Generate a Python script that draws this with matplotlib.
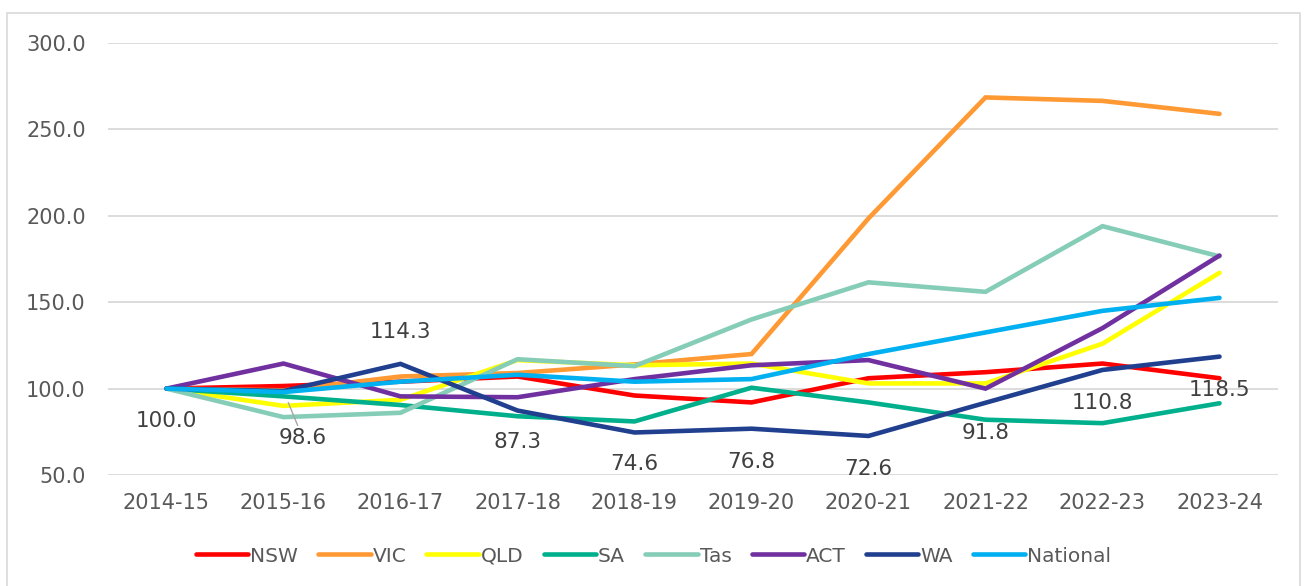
import numpy as np
import matplotlib
matplotlib.use('Agg')
import matplotlib.pyplot as plt
from matplotlib.patches import Rectangle

plt.rcParams['font.family'] = ['DejaVu Sans']

##############################################################################
years = ['2014-15', '2015-16', '2016-17', '2017-18', '2018-19',
         '2019-20', '2020-21', '2021-22', '2022-23', '2023-24']

nsw      = [100.0, 101.5, 104.0, 107.0,  96.0,  92.0, 106.0, 109.5, 114.5, 106.0]
vic      = [100.0,  99.0, 107.0, 109.0, 114.0, 120.0, 198.5, 268.5, 266.5, 259.0]
qld      = [100.0,  90.0,  93.5, 116.5, 113.5, 114.5, 103.0, 103.0, 126.0, 167.0]
sa       = [100.0,  95.5,  90.5,  84.0,  81.0, 100.5,  92.0,  82.0,  80.0,  91.5]
tas      = [100.0,  83.5,  86.0, 117.0, 113.0, 140.0, 161.5, 156.0, 194.0, 176.5]
act      = [100.0, 114.5,  95.5,  95.0, 105.5, 113.5, 116.5, 100.0, 135.0, 177.0]
wa       = [100.0,  98.6, 114.3,  87.3,  74.6,  76.8,  72.6,  91.8, 110.8, 118.5]
national = [100.0,  98.0, 104.0, 108.0, 104.0, 105.5, 120.0, 132.5, 145.0, 152.5]

series = [
    ('NSW', nsw, '#FF0000'),
    ('VIC', vic, '#FF9933'),
    ('QLD', qld, '#FFFF00'),
    ('SA', sa, '#00B08C'),
    ('Tas', tas, '#86CDB8'),
    ('ACT', act, '#7030A0'),
    ('WA', wa, '#203F8F'),
    ('National', national, '#00B0F0'),
]

# offsets (points) of the WA data labels
label_offsets = [(0, -23), (14, -34), (0, 23), (0, -23), (0, -23),
                 (0, -24), (0, -24), (0, -22), (0, -24), (0, -24)]

##############################################################################
txtColor = '#595959'
gridColor = '#D9D9D9'

fig = plt.figure(figsize=(13.07, 5.86), dpi=100)
fig.patches.append(Rectangle((7/1307., -0.01), 1293/1307., 1 - 13/586. + 0.01,
                             transform=fig.transFigure, fill=False,
                             edgecolor=gridColor, linewidth=1.2))
ax = fig.add_axes([108/1307., 1 - 475/586., 1170/1307., 432/586.])

x = np.arange(len(years))
for name, vals, col in series:
    ax.plot(x, vals, color=col, linewidth=3.3, label=name,
            solid_capstyle='round', solid_joinstyle='miter')

for i, (v, off) in enumerate(zip(wa, label_offsets)):
    kw = dict()
    if i == 1:
        kw['arrowprops'] = dict(arrowstyle='-', color='#A6A6A6', lw=1.0,
                                shrinkA=0, shrinkB=9)
    ax.annotate('{0:.1f}'.format(v), (x[i], v), xytext=off,
                textcoords='offset points', ha='center', va='center',
                fontsize=15.5, color='#404040', **kw)

ax.set_xlim(-0.5, len(years) - 0.5)
ax.set_ylim(50, 300)
ax.set_yticks(np.arange(50, 301, 50))
ax.set_yticklabels(['{0:.1f}'.format(t) for t in np.arange(50, 301, 50)])
ax.set_xticks(x)
ax.set_xticklabels(years)
ax.tick_params(axis='both', length=0, labelsize=15, colors=txtColor)
ax.tick_params(axis='y', pad=16)
ax.tick_params(axis='x', pad=13)
ax.yaxis.grid(True, color=gridColor, linewidth=1.3)
ax.set_axisbelow(True)
for s in ax.spines.values():
    s.set_visible(False)

leg = fig.legend(loc='center', bbox_to_anchor=(0.5, 1 - 556/586.), ncol=8,
                 frameon=False, fontsize=14.5, handlelength=2.6,
                 handletextpad=0.1, columnspacing=1.0)
for t in leg.get_texts():
    t.set_color(txtColor)

fig.savefig('out.png', dpi=100)
